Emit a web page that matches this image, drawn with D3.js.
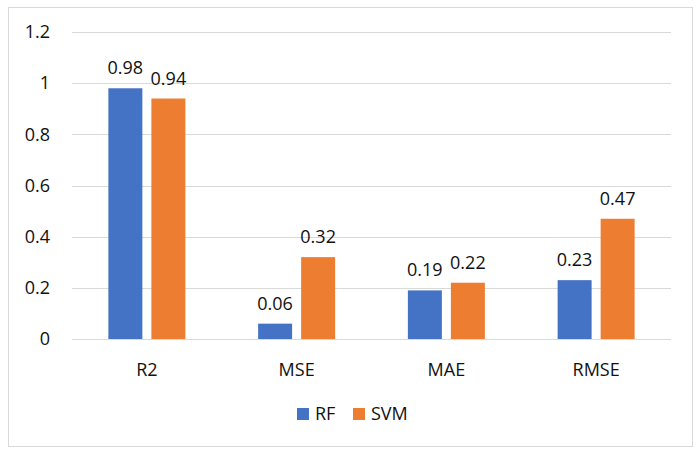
<!DOCTYPE html>
<html>
<head>
<meta charset="utf-8">
<script src="https://cdn.jsdelivr.net/npm/d3@7"></script>
<style>
    body { margin: 0; background: #fff; }
    text { font-family: "Open Sans", "Noto Sans", sans-serif; fill: #111; }
</style>
</head>
<body>
<div id="chart"></div>
<script>
// chart data
let categories = ["R2", "MSE", "MAE", "RMSE"];
let seriesNames = ["RF", "SVM"];
let rfValues = [0.98, 0.06, 0.19, 0.23];
let svmValues = [0.94, 0.32, 0.22, 0.47];
let yTicks = [0, 0.2, 0.4, 0.6, 0.8, 1, 1.2];
let colors = ["#4472C4", "#ED7D31"];

let w = 700, h = 457;
let margins = {top: 32, left: 72, right: 29, bottom: 118};
let width = w - margins.left - margins.right;
let height = h - margins.top - margins.bottom;
let groupWidth = 77;

let svg = d3.select("#chart")
            .append("svg")
            .attr("width", w)
            .attr("height", h);

// outer frame
svg.append("rect")
   .attr("x", 8.5)
   .attr("y", 7.5)
   .attr("width", 684)
   .attr("height", 439)
   .attr("fill", "none")
   .attr("stroke", "#d9d9d9");

let g = svg.append("g")
           .attr("transform", "translate(" + margins.left + "," + margins.top + ")");

let x = d3.scaleBand()
          .domain(categories)
          .range([0, width]);

let xInner = d3.scaleBand()
               .domain(seriesNames)
               .range([0, groupWidth])
               .paddingInner(0.21);

let y = d3.scaleLinear()
          .domain([0, 1.2])
          .range([height, 0]);

// gridlines
g.selectAll(".grid")
 .data(yTicks)
 .enter()
 .append("line")
 .attr("x1", 0)
 .attr("x2", width)
 .attr("y1", d => Math.round(y(d)) + 0.5)
 .attr("y2", d => Math.round(y(d)) + 0.5)
 .attr("stroke", "#d9d9d9")
 .attr("stroke-width", 1);

// y tick labels
g.selectAll(".ytick")
 .data(yTicks)
 .enter()
 .append("text")
 .attr("x", -22)
 .attr("y", d => y(d))
 .attr("dy", "0.35em")
 .attr("text-anchor", "end")
 .style("font-size", "18px")
 .text(d => d);

// bars per series
let series = [rfValues, svmValues];
series.forEach(function(values, s) {
    let rows = categories.map((c, i) => ({cat: c, value: values[i]}));
    let offset = function(d) {
        return x(d.cat) + (x.bandwidth() - groupWidth) / 2 + xInner(seriesNames[s]);
    };

    g.selectAll(".bar-" + s)
     .data(rows)
     .enter()
     .append("rect")
     .attr("x", offset)
     .attr("y", d => y(d.value))
     .attr("width", xInner.bandwidth())
     .attr("height", d => height - y(d.value))
     .attr("fill", colors[s]);

    g.selectAll(".label-" + s)
     .data(rows)
     .enter()
     .append("text")
     .attr("x", d => offset(d) + xInner.bandwidth() / 2)
     .attr("y", d => y(d.value) - 14)
     .attr("text-anchor", "middle")
     .style("font-size", "18px")
     .text(d => d.value);
});

// category labels
g.selectAll(".xtick")
 .data(categories)
 .enter()
 .append("text")
 .attr("x", d => x(d) + x.bandwidth() / 2)
 .attr("y", height + 37)
 .attr("text-anchor", "middle")
 .style("font-size", "18px")
 .text(d => d);

// legend
let legend = svg.append("g");
let legendX = [297, 353];
seriesNames.forEach(function(name, i) {
    legend.append("rect")
          .attr("x", legendX[i])
          .attr("y", 408)
          .attr("width", 12)
          .attr("height", 12)
          .attr("fill", colors[i]);
    legend.append("text")
          .attr("x", legendX[i] + 18)
          .attr("y", 414)
          .attr("dy", "0.35em")
          .style("font-size", "18px")
          .text(name);
});
</script>
</body>
</html>
